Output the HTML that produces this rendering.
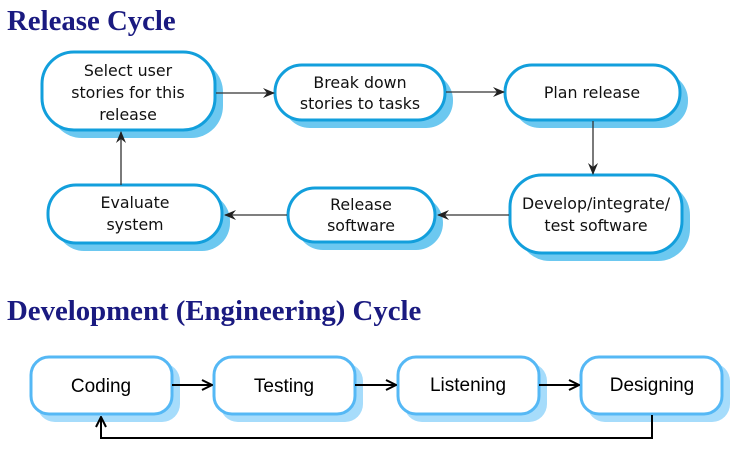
<!DOCTYPE html>
<html><head><style>
html,body{margin:0;padding:0;background:#fff;width:749px;height:473px;overflow:hidden}
svg{display:block}
.t{font-family:"DejaVu Sans","Liberation Sans",sans-serif;font-size:15.8px;fill:#111;text-anchor:middle}
.b{font-family:"Liberation Sans",sans-serif;font-size:19px;fill:#000;text-anchor:middle}
.h{font-family:"Liberation Serif",serif;font-weight:bold;font-size:28.8px;fill:#1a1a80}
</style></head><body>
<svg width="749" height="473" viewBox="0 0 749 473">
<defs>
<marker id="a" markerWidth="12" markerHeight="10" refX="11" refY="5" orient="auto" markerUnits="userSpaceOnUse"><path d="M0,0 L12,5 L0,10 L4,5 Z" fill="#222"/></marker>
<marker id="b" markerWidth="12" markerHeight="12" refX="11" refY="6" orient="auto" markerUnits="userSpaceOnUse"><path d="M1,1 L11,6 L1,11" fill="none" stroke="#000" stroke-width="2"/></marker>
</defs>
<text class="h" x="7" y="30">Release Cycle</text>
<text class="h" x="7" y="320">Development (Engineering) Cycle</text>
<g fill="#6cc8f0">
<rect x="50" y="60" width="173" height="78" rx="32"/>
<rect x="283" y="73" width="170" height="55" rx="27"/>
<rect x="513" y="73" width="175" height="55" rx="27"/>
<rect x="518" y="183" width="172" height="78" rx="32"/>
<rect x="296" y="196" width="147" height="54" rx="27"/>
<rect x="56" y="193" width="174" height="58" rx="28"/>
</g>
<g fill="#fff" stroke="#129fdc" stroke-width="3">
<rect x="42" y="52" width="173" height="78" rx="32"/>
<rect x="275" y="65" width="170" height="55" rx="27"/>
<rect x="505" y="65" width="175" height="55" rx="27"/>
<rect x="510" y="175" width="172" height="78" rx="32"/>
<rect x="288" y="188" width="147" height="54" rx="27"/>
<rect x="48" y="185" width="174" height="58" rx="28"/>
</g>
<g class="t">
<text x="128" y="76">Select user</text><text x="128" y="98">stories for this</text><text x="128" y="120">release</text>
<text x="360" y="88">Break down</text><text x="360" y="109">stories to tasks</text>
<text x="592" y="98">Plan release</text>
<text x="596" y="209">Develop/integrate/</text><text x="596" y="231">test software</text>
<text x="361" y="210">Release</text><text x="361" y="231">software</text>
<text x="135" y="208">Evaluate</text><text x="135" y="230">system</text>
</g>
<g stroke="#333" stroke-width="1.3" fill="none">
<line x1="216" y1="93" x2="274" y2="93" marker-end="url(#a)"/>
<line x1="446" y1="92" x2="504" y2="92" marker-end="url(#a)"/>
<line x1="593" y1="121" x2="593" y2="174" marker-end="url(#a)"/>
<line x1="509" y1="215" x2="438" y2="215" marker-end="url(#a)"/>
<line x1="287" y1="215" x2="225" y2="215" marker-end="url(#a)"/>
<line x1="121" y1="185" x2="121" y2="132" marker-end="url(#a)"/>
</g>
<g fill="#a6dcfb">
<rect x="37" y="363" width="143" height="59" rx="18"/>
<rect x="220" y="363" width="143" height="59" rx="18"/>
<rect x="404" y="363" width="143" height="59" rx="18"/>
<rect x="587" y="363" width="143" height="59" rx="18"/>
</g>
<g fill="#fff" stroke="#55b8f5" stroke-width="3">
<rect x="31" y="357" width="141" height="57" rx="18"/>
<rect x="214" y="357" width="141" height="57" rx="18"/>
<rect x="398" y="357" width="141" height="57" rx="18"/>
<rect x="581" y="357" width="141" height="57" rx="18"/>
</g>
<g class="b">
<text x="101" y="392">Coding</text>
<text x="284" y="392">Testing</text>
<text x="468" y="391">Listening</text>
<text x="652" y="391">Designing</text>
</g>
<g stroke="#000" stroke-width="2" fill="none">
<line x1="172" y1="385" x2="212" y2="385" marker-end="url(#b)"/>
<line x1="355" y1="385" x2="396" y2="385" marker-end="url(#b)"/>
<line x1="539" y1="385" x2="579" y2="385" marker-end="url(#b)"/>
<polyline points="652,415 652,438 101,438 101,417" marker-end="url(#b)"/>
</g>
</svg>
</body></html>
